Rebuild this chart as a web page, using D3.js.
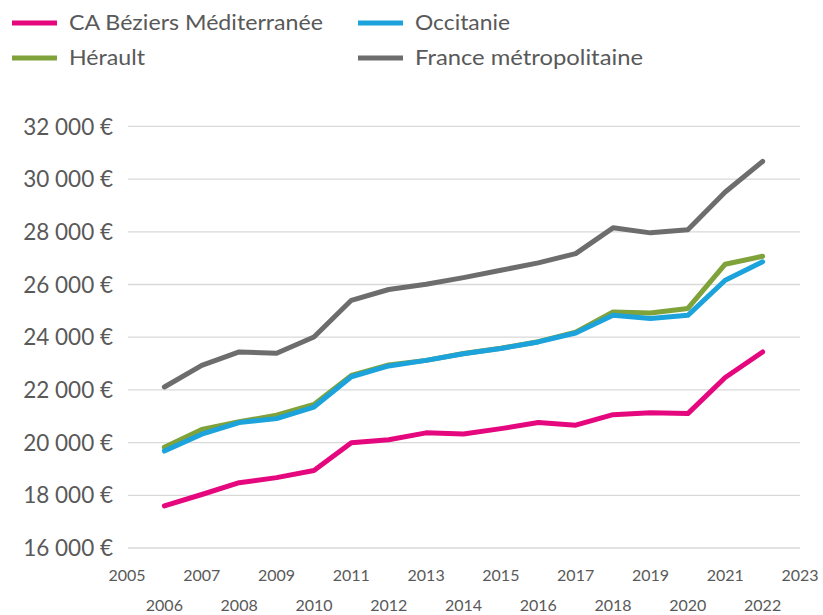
<!DOCTYPE html>
<html>
<head>
<meta charset="utf-8">
<script src="https://cdn.jsdelivr.net/npm/d3@7"></script>
<style>
    body { margin: 0; background: #fff; }
    text { font-family: Lato, "Open Sans", sans-serif; fill: #595959; }
</style>
</head>
<body>
<div class="chart"></div>
<script>
// data
var years = [2006, 2007, 2008, 2009, 2010, 2011, 2012, 2013, 2014, 2015, 2016, 2017, 2018, 2019, 2020, 2021, 2022];
var beziers = [17600, 18030, 18480, 18670, 18940, 19990, 20110, 20370, 20330, 20530, 20760, 20660, 21060, 21130, 21100, 22470, 23440];
var herault = [19820, 20500, 20790, 21040, 21450, 22550, 22950, 23120, 23380, 23580, 23830, 24190, 24960, 24920, 25090, 26770, 27070];
var occitanie = [19680, 20320, 20760, 20910, 21350, 22500, 22910, 23120, 23370, 23570, 23820, 24160, 24830, 24710, 24830, 26160, 26860];
var france = [22110, 22930, 23440, 23390, 24010, 25400, 25810, 26010, 26260, 26540, 26820, 27170, 28150, 27960, 28080, 29510, 30670];
var yTicks = [16000, 18000, 20000, 22000, 24000, 26000, 28000, 30000, 32000];
var xTicks = d3.range(2005, 2024);

var series = [
    {name: "CA Béziers Méditerranée", values: beziers, color: "#e5077e"},
    {name: "Hérault", values: herault, color: "#7fa23a"},
    {name: "Occitanie", values: occitanie, color: "#1ca3dc"},
    {name: "France métropolitaine", values: france, color: "#6d6d6d"}
];

var width = 823,
    height = 615;

var svg = d3.select('.chart').append("svg")
    .attr("width", width)
    .attr("height", height);

var x = d3.scaleLinear()
    .domain([2005, 2023])
    .range([127, 800]);

var y = d3.scaleLinear()
    .domain([16000, 32000])
    .range([548, 126.4]);

// gridlines
svg.append("g")
    .selectAll("line")
    .data(yTicks)
    .enter()
    .append("line")
    .attr("x1", 128)
    .attr("x2", 800)
    .attr("y1", function (d) { return y(d); })
    .attr("y2", function (d) { return y(d); })
    .attr("stroke", "#d9d9d9")
    .attr("stroke-width", 1.3);

// y labels
var fmt = function (d) { return d3.format(",")(d).replace(",", " ") + " €"; };
svg.append("g")
    .selectAll("text")
    .data(yTicks)
    .enter()
    .append("text")
    .attr("x", 113)
    .attr("y", function (d) { return y(d); })
    .attr("dy", "0.36em")
    .attr("text-anchor", "end")
    .style("font-size", "22.5px")
    .text(fmt);

// x labels, staggered on two rows
svg.append("g")
    .selectAll("text")
    .data(xTicks)
    .enter()
    .append("text")
    .attr("x", function (d) { return x(d); })
    .attr("y", function (d) { return d % 2 ? 581 : 611; })
    .attr("text-anchor", "middle")
    .style("font-size", "16px")
    .text(function (d) { return d; });

// lines
var line = d3.line()
    .x(function (d, i) { return x(years[i]); })
    .y(function (d) { return y(d); });

svg.append("g")
    .selectAll("path")
    .data(series)
    .enter()
    .append("path")
    .attr("d", function (d) { return line(d.values); })
    .attr("fill", "none")
    .attr("stroke", function (d) { return d.color; })
    .attr("stroke-width", 5)
    .attr("stroke-linejoin", "round")
    .attr("stroke-linecap", "round");

// legend (text stretched to the reference widths)
var legendItems = [
    {s: series[0], x: 12, y: 23, w: 254},
    {s: series[2], x: 358, y: 23, w: 95},
    {s: series[1], x: 12, y: 58, w: 76},
    {s: series[3], x: 358, y: 58, w: 228}
];
var leg = svg.append("g")
    .selectAll("g")
    .data(legendItems)
    .enter()
    .append("g")
    .attr("transform", function (d) { return "translate(" + d.x + "," + d.y + ")"; });

leg.append("line")
    .attr("x1", 0)
    .attr("x2", 45)
    .attr("stroke", function (d) { return d.s.color; })
    .attr("stroke-width", 5);

leg.append("text")
    .attr("x", 57)
    .attr("y", 7)
    .attr("textLength", function (d) { return d.w; })
    .attr("lengthAdjust", "spacingAndGlyphs")
    .style("font-size", "21px")
    .text(function (d) { return d.s.name; });
</script>
</body>
</html>
